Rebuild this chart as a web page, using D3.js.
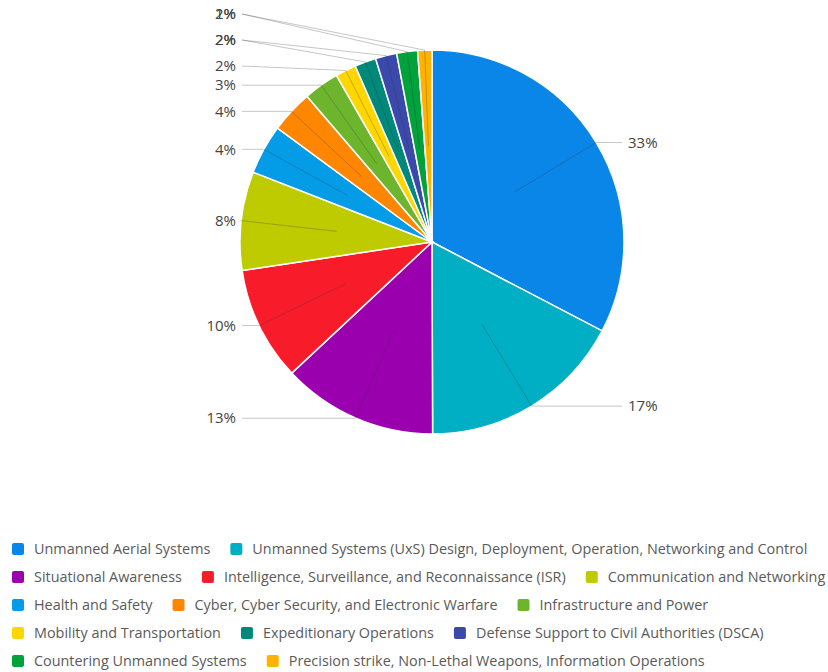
<!DOCTYPE html>
<html>
<head>
<meta charset="utf-8">
<script src="https://cdnjs.cloudflare.com/ajax/libs/d3/7.8.5/d3.min.js"></script>
<style>
  body { margin: 0; background: #fff; }
  text { font-family: "Open Sans", "Noto Sans", sans-serif; }
</style>
</head>
<body>
<div class="chart"></div>
<script>
var svgWidth = 828;
var svgHeight = 672;

// categories, clockwise from 12 o'clock
var categories = [
  "Unmanned Aerial Systems",
  "Unmanned Systems (UxS) Design, Deployment, Operation, Networking and Control",
  "Situational Awareness",
  "Intelligence, Surveillance, and Reconnaissance (ISR)",
  "Communication and Networking",
  "Health and Safety",
  "Cyber, Cyber Security, and Electronic Warfare",
  "Infrastructure and Power",
  "Mobility and Transportation",
  "Expeditionary Operations",
  "Defense Support to Civil Authorities (DSCA)",
  "Countering Unmanned Systems",
  "Precision strike, Non-Lethal Weapons, Information Operations"
];

// share of each category (%)
var values = [32.7, 17.3, 13.1, 9.6, 8.3, 4.2, 3.6, 3.0, 1.75, 1.8, 1.8, 1.75, 1.2];

var colors = [
  "#0a86e9", "#00afc4", "#9a00ae", "#f81c2b", "#bdcb00", "#049ce6",
  "#ff8600", "#6cb52d", "#ffd600", "#00897b", "#3a49ab", "#00a23c", "#ffb300"
];

var cx = 432, cy = 242, radius = 192;

var svg = d3.select(".chart")
  .append("svg")
  .attr("width", svgWidth)
  .attr("height", svgHeight);

var total = d3.sum(values);
var data = categories.map(function(c, i) {
  return { name: c, value: values[i], color: colors[i] };
});

var pie = d3.pie()
  .sort(null)
  .value(d => d.value);

var arc = d3.arc()
  .innerRadius(0)
  .outerRadius(radius);

var arcs = pie(data);

var pieGroup = svg.append("g")
  .attr("transform", `translate(${cx}, ${cy})`);

pieGroup.selectAll("path")
  .data(arcs)
  .enter()
  .append("path")
  .attr("d", arc)
  .attr("fill", d => d.data.color)
  .attr("stroke", "#fff")
  .attr("stroke-width", 1.5);

// label positions: natural height at the slice edge, then pushed apart
function pointAt(a, r) {
  return [Math.sin(a) * r, -Math.cos(a) * r];
}

var labels = arcs.map(function(d) {
  var mid = (d.startAngle + d.endAngle) / 2;
  var edge = pointAt(mid, radius);
  return {
    d: d,
    mid: mid,
    inner: pointAt(mid, radius * 0.5),
    edge: edge,
    right: mid < Math.PI,
    y: edge[1],
    text: Math.round(d.data.value / total * 100) + "%"
  };
});

var spacing = 17;
var rowStep = 26;
var topY = 14 - cy;

// left side: walk from bottom to top
var left = labels.filter(d => !d.right).sort((a, b) => b.y - a.y);
for (var i = 1; i < left.length; i++) {
  left[i].y = Math.min(left[i].y, left[i - 1].y - spacing);
}
// not enough room at the top: snap the pushed labels onto coarse rows
if (left.some(d => d.y < topY)) {
  left.forEach(function(d) {
    if (d.y < d.edge[1] - 0.5) {
      d.y = topY + Math.max(0, Math.round((d.y - topY) / rowStep)) * rowStep;
    }
  });
}

var right = labels.filter(d => d.right).sort((a, b) => a.y - b.y);
for (var j = 1; j < right.length; j++) {
  right[j].y = Math.max(right[j].y, right[j - 1].y + spacing);
}

var labelGroup = pieGroup.append("g");

labelGroup.selectAll("polyline")
  .data(labels)
  .enter()
  .append("polyline")
  .attr("points", function(d) {
    var endX = d.right ? radius - 2 : -(radius - 2);
    return [d.inner, d.edge, [endX, d.y]].map(p => p.join(",")).join(" ");
  })
  .attr("fill", "none")
  .attr("stroke", "#333")
  .attr("stroke-opacity", 0.28)
  .attr("stroke-width", 1);

labelGroup.selectAll("text")
  .data(labels)
  .enter()
  .append("text")
  .attr("x", d => d.right ? radius + 4 : -(radius + 4))
  .attr("y", d => d.y)
  .attr("dy", "0.35em")
  .attr("text-anchor", d => d.right ? "start" : "end")
  .attr("font-size", 15)
  .attr("fill", "#444")
  .text(d => d.text);

// legend, flowing left to right and wrapping
var legend = svg.append("g");
var legendX0 = 12, legendY0 = 549, rowHeight = 28, maxX = 836;
var lx = legendX0, ly = legendY0;

data.forEach(function(d) {
  var item = legend.append("g");
  item.append("rect")
    .attr("x", 0)
    .attr("y", -6)
    .attr("width", 12)
    .attr("height", 12)
    .attr("rx", 2)
    .attr("fill", d.color);
  var t = item.append("text")
    .attr("x", 22)
    .attr("dy", "0.35em")
    .attr("font-size", 14.4)
    .attr("fill", "#5a5a5a")
    .text(d.name);
  var w = 22 + t.node().getComputedTextLength();
  if (lx + w > maxX && lx > legendX0) {
    lx = legendX0;
    ly += rowHeight;
  }
  item.attr("transform", `translate(${lx}, ${ly})`);
  lx += w + 20;
});
</script>
</body>
</html>
